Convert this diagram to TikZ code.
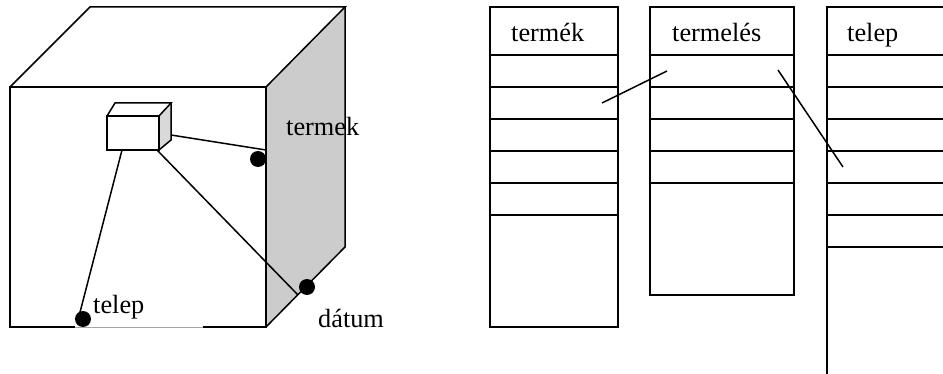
\documentclass[tikz,border=0pt]{standalone}
\usepackage{fontspec}
\setmainfont{Liberation Serif}
\begin{document}
\begin{tikzpicture}[x=1pt,y=-1pt,
  edge/.style={line width=1.5pt,line join=miter},
  lbl/.style={anchor=base west,inner sep=0pt,font=\fontsize{26.3}{30}\selectfont},
  dot/.style={circle,fill=black,inner sep=0pt,minimum size=16pt}]
\useasboundingbox (0,0) rectangle (943,374);
% ---- cube ----
\fill[black!20] (266,87) -- (345,7) -- (345,247) -- (266,327) -- cycle;
\draw[edge] (10,87) -- (90,7) -- (345,7) -- (266,87);
\draw[edge] (345,7) -- (345,247) -- (266,327);
\draw[edge] (75,327) -- (10,327) -- (10,87) -- (266,87) -- (266,327) -- (203,327);
\draw[black!35,line width=0.8pt] (75,327) -- (203,327);
% small box
\fill[black!15] (159,116) -- (171,103) -- (171,140) -- (159,150) -- cycle;
\draw[edge] (107,116) rectangle (159,150);
\draw[edge] (107,116) -- (115,103) -- (171,103) -- (159,116);
\draw[edge] (171,103) -- (171,140) -- (159,150);
\coordinate (boxR) at (171,135);
\coordinate (boxB) at (122,150);
\coordinate (boxC) at (157,150);
% dots
\node[dot] (dtermek) at (258,159) {};
\node[dot] (ddatum) at (307,287) {};
\node[dot] (dtelep) at (83,319) {};
\coordinate (eTermek) at (266,150);
\coordinate (eDatum) at (298,295);
\coordinate (eTelep) at (78,320);
\draw[edge] (boxR) -- (eTermek);
\draw[edge] (boxC) -- (eDatum);
\draw[edge] (boxB) -- (eTelep);
\node[lbl] (ltermek) at (286,136) {termek};
\node[lbl] (ldatum) at (318,327) {dátum};
\node[lbl] (ltelep) at (93,313) {telep};
% ---- tables ----
\draw[edge] (490,7) rectangle (618,327);
\foreach \y in {55,87,119,151,183,215} \draw[edge] (490,\y) -- (618,\y);
\node[lbl] (h1) at (511,42) {termék};
\draw[edge] (650,7) rectangle (794,295);
\foreach \y in {55,87,119,151,183} \draw[edge] (650,\y) -- (794,\y);
\node[lbl] (h2) at (672,42) {termelés};
\draw[edge] (827,374) -- (827,7) -- (943,7);
\foreach \y in {55,87,119,151,183,215,247} \draw[edge] (827,\y) -- (943,\y);
\node[lbl] (h3) at (847,42) {telep};
\coordinate (l1a) at (602,103);
\coordinate (l1b) at (667,71);
\coordinate (l2a) at (778,70);
\coordinate (l2b) at (843,167);
\draw[edge] (l1a) -- (l1b);
\draw[edge] (l2a) -- (l2b);
\end{tikzpicture}
\end{document}
